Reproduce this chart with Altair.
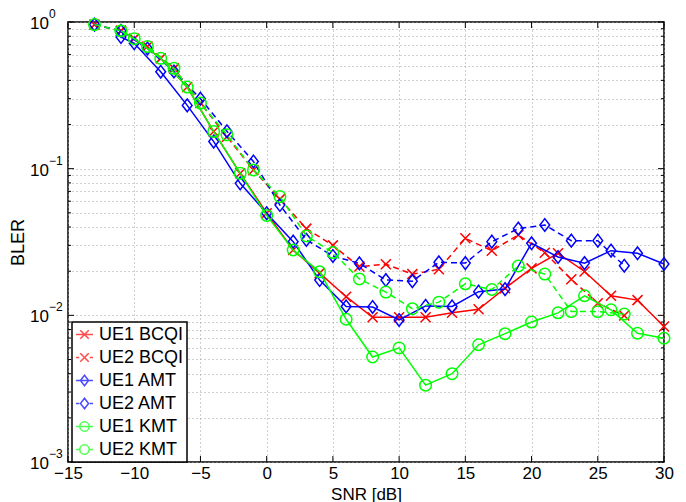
import altair as alt
import pandas as pd

# ---- data ----
snr_ue1 = [-11, -10, -8, -6, -4, -2, 0, 2, 4, 6, 8, 10, 12, 14, 16, 18, 20, 22, 24, 26, 28, 30]
bcqi_ue1 = [0.87, 0.77, 0.565, 0.36, 0.179, 0.093, 0.0497, 0.0279, 0.0194, 0.0134, 0.0097, 0.0097,
            0.0097, 0.0104, 0.011, 0.0153, 0.0209, 0.0265, 0.0199, 0.0136, 0.0127, 0.0084]
amt_ue1 = [0.79, 0.716, 0.458, 0.27, 0.153, 0.0794, 0.0497, 0.0318, 0.0174, 0.0115, 0.0114, 0.0093,
           0.0116, 0.0115, 0.0145, 0.0151, 0.031, 0.025, 0.0227, 0.0276, 0.0265, 0.0224]
kmt_ue1 = [0.87, 0.77, 0.565, 0.36, 0.179, 0.093, 0.048, 0.0279, 0.0198, 0.0094, 0.0052, 0.006,
           0.00334, 0.004, 0.0063, 0.0075, 0.009, 0.0104, 0.0136, 0.0109, 0.00755, 0.00698]

snr_ue2 = [-13, -11, -9, -7, -5, -3, -1, 1, 3, 5, 7, 9, 11, 13, 15, 17, 19, 21, 23, 25, 27]
bcqi_ue2 = [0.96, 0.87, 0.68, 0.483, 0.28, 0.165, 0.098, 0.062, 0.039, 0.030, 0.0215, 0.0223,
            0.0191, 0.0206, 0.0335, 0.0276, 0.0353, 0.0267, 0.0176, 0.0121, 0.00996]
amt_ue2 = [0.96, 0.87, 0.66, 0.46, 0.30, 0.18, 0.112, 0.0565, 0.0327, 0.0254, 0.0226, 0.0174,
           0.0171, 0.023, 0.0227, 0.0318, 0.039, 0.0413, 0.0323, 0.0323, 0.0218]
kmt_ue2 = [0.96, 0.87, 0.68, 0.483, 0.28, 0.17, 0.098, 0.0645, 0.0348, 0.0268, 0.0177, 0.0144,
           0.0111, 0.0123, 0.0164, 0.015, 0.0217, 0.0191, 0.0106, 0.0106, 0.0102]

series_names = ["UE1 BCQI", "UE2 BCQI", "UE1 AMT", "UE2 AMT", "UE1 KMT", "UE2 KMT"]
x_ticks = [-15, -10, -5, 0, 5, 10, 15, 20, 25, 30]
y_decades = [1, 0.1, 0.01, 0.001]
y_exponents = ["0", "\u22121", "\u22122", "\u22123"]
y_minor = [m * d for d in [0.1, 0.01, 0.001] for m in range(2, 10)]

# ---- styling ----
RED, BLUE, GREEN = "#ff0000", "#0000ff", "#00ff00"
colors = [RED, RED, BLUE, BLUE, GREEN, GREEN]
X_PATH = "M-1,-1L1,1M-1,1L1,-1"
D_PATH = "M0,-1.3L1,0L0,1.3L-1,0Z"
C_PATH = "M1,0A1,1,0,1,1,-1,0A1,1,0,1,1,1,0Z"
markers = [(X_PATH, 100), (X_PATH, 100), (D_PATH, 95), (D_PATH, 95), (C_PATH, 132), (C_PATH, 132)]
FONT = "Liberation Sans"
W, H = 596, 440

xscale = alt.Scale(domain=[-15, 30], nice=False, zero=False)
yscale = alt.Scale(type="log", domain=[0.001, 1], nice=False)

xaxis = alt.Axis(values=x_ticks, format="d", ticks=False, domain=False, grid=True,
                 gridColor="#a0a0a0", gridDash=[1, 3], gridWidth=1,
                 labelFont=FONT, labelFontSize=17, labelColor="black", labelPadding=3,
                 labelFlush=False, title="SNR [dB]", titleFont=FONT, titleFontSize=17,
                 titleFontWeight="normal", titleColor="black", titleX=W / 2, titleY=37,
                 titleAlign="center", titleBaseline="alphabetic")
yaxis = alt.Axis(values=y_decades + y_minor, labels=False, ticks=False, domain=False, grid=True,
                 gridColor="#a0a0a0", gridDash=[1, 3], gridWidth=1,
                 title="BLER", titleFont=FONT, titleFontSize=18, titleFontWeight="normal",
                 titleColor="black", titleX=-50, titleY=H / 2, titleAlign="center",
                 titleBaseline="middle", titleAngle=270)

X = alt.X("snr:Q", scale=xscale, axis=xaxis)
Y = alt.Y("bler:Q", scale=yscale, axis=yaxis)

data_sets = [
    (snr_ue1, bcqi_ue1), (snr_ue2, bcqi_ue2),
    (snr_ue1, amt_ue1), (snr_ue2, amt_ue2),
    (snr_ue1, kmt_ue1), (snr_ue2, kmt_ue2),
]

layers = []
for i, (name, (xs, ys)) in enumerate(zip(series_names, data_sets)):
    df = pd.DataFrame({"snr": xs, "bler": ys, "series": name})
    dashed = name.startswith("UE2")
    line_kw = dict(color=colors[i], strokeWidth=1.5)
    if dashed:
        line_kw["strokeDash"] = [6, 4]
    layers.append(alt.Chart(df).mark_line(**line_kw).encode(x=X, y=Y))
    shp, sz = markers[i]
    layers.append(alt.Chart(df).mark_point(shape=shp, size=sz, filled=False, color=colors[i],
                                           strokeWidth=1.5, opacity=1).encode(x=X, y=Y))

# inward ticks (box style)
ydf_major = pd.DataFrame({"bler": y_decades})
ydf_minor = pd.DataFrame({"bler": y_minor})
xdf = pd.DataFrame({"snr": x_ticks})
tick_layers = [
    alt.Chart(ydf_major).mark_rule(color="black", strokeWidth=1).encode(y=Y, x=alt.value(0), x2=alt.value(6)),
    alt.Chart(ydf_major).mark_rule(color="black", strokeWidth=1).encode(y=Y, x=alt.value(W), x2=alt.value(W - 6)),
    alt.Chart(ydf_minor).mark_rule(color="black", strokeWidth=1).encode(y=Y, x=alt.value(0), x2=alt.value(3)),
    alt.Chart(ydf_minor).mark_rule(color="black", strokeWidth=1).encode(y=Y, x=alt.value(W), x2=alt.value(W - 3)),
    alt.Chart(xdf).mark_rule(color="black", strokeWidth=1).encode(x=X, y=alt.value(H), y2=alt.value(H - 6)),
    alt.Chart(xdf).mark_rule(color="black", strokeWidth=1).encode(x=X, y=alt.value(0), y2=alt.value(6)),
]

# y tick labels "10" with superscript exponents
lab_df = pd.DataFrame({"bler": y_decades, "exp": y_exponents})
label_layers = [
    alt.Chart(lab_df).mark_text(text="10", align="left", baseline="middle", font=FONT, fontSize=17,
                                color="black", dy=2).encode(y=Y, x=alt.value(-38)),
    alt.Chart(lab_df).mark_text(align="left", baseline="middle", font=FONT, fontSize=12,
                                color="black", dy=-8).encode(y=Y, x=alt.value(-19), text="exp:N"),
]

# legend layer (no drawn data, legend built from explicit domain)
UE1_LINE = "M-1,0H1"
UE2_LINE = "M-1,0H-0.62M0.62,0H1"
LX = "M-0.5,-0.5L0.5,0.5M-0.5,0.5L0.5,-0.5"
LD = "M0,-0.62L0.48,0L0,0.62L-0.48,0Z"
LC = "M0.55,0A0.55,0.55,0,1,1,-0.55,0A0.55,0.55,0,1,1,0.55,0Z"
legend_shapes = [UE1_LINE + LX, UE2_LINE + LX, UE1_LINE + LD, UE2_LINE + LD, UE1_LINE + LC, UE2_LINE + LC]
leg = alt.Legend(title=None, orient="none", legendX=4, legendY=300, padding=3,
                 fillColor="white", strokeColor="black", cornerRadius=0,
                 labelFont=FONT, labelFontSize=18, labelColor="black", labelOffset=5,
                 symbolSize=289, symbolStrokeWidth=1.5, rowPadding=4)
legdf = pd.DataFrame({"series": series_names, "snr": [0] * 6, "bler": [0.1] * 6})
legend_layer = alt.Chart(legdf).mark_point(filled=False, strokeWidth=1.5).encode(
    shape=alt.Shape("series:N", scale=alt.Scale(domain=series_names, range=legend_shapes), legend=leg),
    color=alt.Color("series:N", scale=alt.Scale(domain=series_names, range=colors), legend=leg),
).transform_filter("false")

chart = alt.layer(*tick_layers, *layers, *label_layers, legend_layer).properties(
    width=W, height=H,
    padding={"left": 60, "top": 14, "right": 14, "bottom": 40},
    autosize=alt.AutoSizeParams(type="none"),
).configure_view(stroke="black", strokeWidth=1.5).configure_legend(strokeWidth=1.5)

chart.save("out.html", embed_options={"renderer": "svg", "actions": False})
